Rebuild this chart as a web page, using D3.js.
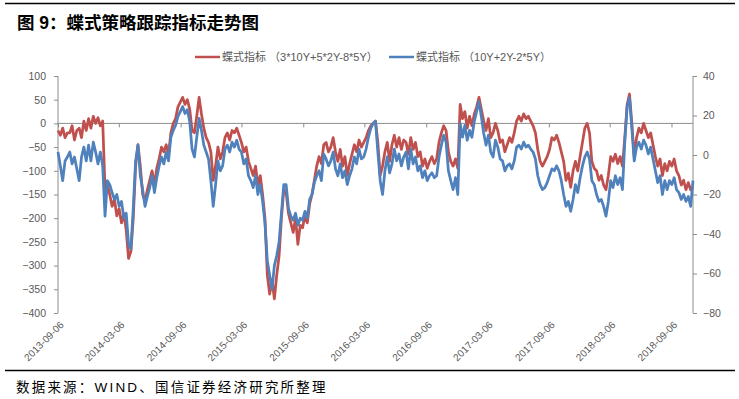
<!DOCTYPE html>
<html>
<head>
<meta charset="utf-8">
<script src="https://cdn.jsdelivr.net/npm/d3@7"></script>
<style>
  body { margin: 0; background: #fff; }
  text { font-family: "Liberation Sans", Arial, "Noto Sans CJK SC", sans-serif; }
</style>
</head>
<body>
<script>
// weekly samples, starting 2013-09-06
var startDate = "2013-09-06";

// red: 3*10Y+5*2Y-8*5Y (left axis)
var redValues = [
  -15, -25, -10, -30, -20, -20, -5, -35, -15, -10, -30, 5, -15, 10, -10, 15, 0, 12, -5, 5,
  -140, -130, -150, -175, -160, -195, -180, -210, -190, -225, -285, -270, -200, -90, -45, -90, -150, -165, -140, -120,
  -100, -130, -95, -75, -50, -60, -45, -65, -20, 0, 10, 35, 45, 55, 40, 50, 30, -15, -20, 15,
  55, 20, -10, -30, -40, -60, -120, -90, -50, -75, -60, -30, -20, -35, -15, -20, -10, -25, -40, -60,
  -50, -80, -95, -110, -90, -130, -110, -150, -200, -320, -360, -330, -370, -320, -280, -200, -140, -145, -190, -210,
  -230, -200, -255, -215, -220, -195, -210, -170, -150, -120, -90, -70, -85, -45, -40, -60, -50, -30, -60, -80,
  -55, -90, -70, -110, -85, -65, -45, -60, -35, -50, -40, -30, -15, -5, 0, 5, -40, -110, -90, -60,
  -40, -80, -45, -25, -50, -30, -55, -35, -40, -65, -30, -55, -40, -70, -60, -90, -75, -95, -80, -70,
  -85, -75, -40, -20, -5, -15, -60, -80, -90, -75, -95, 40, 10, 25, -10, 15, -5, 20, 35, 55,
  30, 5, -15, 10, -30, -20, 0, -15, -40, -35, -60, -45, -30, -40, -20, 5, 15, 5, 20, 10,
  15, 5, -5, -20, -55, -80, -90, -80, -70, -55, -30, -35, -25, -40, -60, -80, -120, -105, -135, -100,
  -80, -100, -70, -40, -10, 0, -20, -80, -95, -100, -120, -110, -130, -140, -110, -70, -80, -65, -85, -70,
  -90, -30, 40, 62, 0, -70, -30, -10, -20, 0, -15, -30, -20, -45, -70, -90, -75, -110, -85, -100,
  -80, -90, -75, -100, -110, -130, -120, -140, -125, -140, -135
];

// blue: 10Y+2Y-2*5Y (right axis)
var blueValues = [
  1.5, -5.5, -13, -3, -1, 1.5, -4.5, -1, -7, -13, -1, 4, -3, 5, -3, 6.5, 1.5, -4.5, 1.5, -5.5,
  -31, -13, -15, -19, -22.5, -20, -26, -23.5, -32, -29.5, -45, -47.5, -27, -3, 5, -10.5, -17.5, -26, -21, -16.5,
  -10.5, -19, -11.5, -5.5, -1, -4.5, 1.5, -3, 9, 12.5, 15, 19.5, 22, 24.5, 21, 23, 17, 3, -1, 9,
  18.5, 12.5, 5, 1.5, -2, -13, -26, -15, -3, -8, -5.5, 3, 5, 1.5, 6.5, 4, 7.5, 3, 1.5, -4.5,
  -2, -10.5, -13, -16.5, -10.5, -20, -15, -23.5, -34.5, -53.5, -61, -68, -56, -51, -44, -29.5, -15, -15, -27, -31,
  -33, -29.5, -35.5, -32, -33, -28.5, -32, -22.5, -20, -14, -10.5, -8, -13, 0.5, -2, -5.5, -3, 1.5, -7, -10.5,
  -4.5, -11.5, -8, -15, -10.5, -7, -1, -4.5, 3, -2, -1, 3, 9, 13.5, 16, 17, 1.5, -13, -20, -8,
  -1, -9, -4.5, 3, -3, 0.5, -5.5, -1, 1.5, -7, 3, -4.5, -1, -8, -5.5, -11.5, -8, -13, -10.5, -9,
  -11.5, -10.5, -1, 5, 10, 6.5, -8, -13, -17.5, -11.5, -20, 16, 9, 15, 7.5, 12.5, 9, 17, 22, 27,
  19.5, 11, 5, 10, 1.5, -1, 7.5, 4, -2, -3, -8, -5.5, -4.5, -7, -3, 4, 5, 3, 6.5, 4,
  5, 3, 1.5, -2, -10.5, -15, -17.5, -16.5, -14, -10.5, -7, -8, -5.5, -8, -13, -20, -26, -23.5, -28.5, -22.5,
  -15, -19, -11.5, -5.5, -1, 1.5, -2, -13, -15, -20, -23.5, -22.5, -26, -31, -23.5, -13, -16.5, -10.5, -15, -11.5,
  -17.5, 6.5, 24.5, 29, 13.5, -3, 4, 6.5, 3, 7.5, 5, 0.5, 4, -2, -8, -14, -10.5, -20, -13, -17.5,
  -13, -15, -11.5, -17.5, -19, -22.5, -20, -23.5, -21, -26, -13
];

var xTickLabels = ["2013-09-06", "2014-03-06", "2014-09-06", "2015-03-06", "2015-09-06", "2016-03-06",
  "2016-09-06", "2017-03-06", "2017-09-06", "2018-03-06", "2018-09-06"];
var leftTicks = [100, 50, 0, -50, -100, -150, -200, -250, -300, -350, -400];
var rightTicks = [40, 20, 0, -20, -40, -60, -80];

var seriesNames = ["蝶式指标 （3*10Y+5*2Y-8*5Y）", "蝶式指标 （10Y+2Y-2*5Y）"];
var red = "#C0504D", blue = "#4F81BD";
var axisGrey = "#8C8C8C", textGrey = "#595959";

var width = 739, height = 399;
var parse = d3.timeParse("%Y-%m-%d");
var t0 = parse(startDate);
var dates = redValues.map(function (d, i) { return d3.timeDay.offset(t0, i * 7); });

var plot = { left: 58, right: 693, top: 76, bottom: 313 };

var svg = d3.select("body").append("svg")
    .attr("width", width)
    .attr("height", height);

// frame rules
svg.append("line").attr("x1", 5).attr("x2", 735).attr("y1", 3.5).attr("y2", 3.5)
    .attr("stroke", "#000").attr("stroke-width", 1.5);
svg.append("line").attr("x1", 5).attr("x2", 735).attr("y1", 370.5).attr("y2", 370.5)
    .attr("stroke", "#000").attr("stroke-width", 1.5);

svg.append("text")
    .attr("x", 17).attr("y", 29)
    .attr("font-family", "'Noto Sans CJK SC', sans-serif")
    .attr("font-weight", "bold")
    .attr("font-size", 17.5)
    .attr("fill", "#000")
    .text("图 9：蝶式策略跟踪指标走势图");

svg.append("text")
    .attr("x", 16).attr("y", 392)
    .attr("font-family", "'Noto Sans CJK SC', sans-serif")
    .attr("font-size", 13.5)
    .attr("letter-spacing", 2.2)
    .attr("fill", "#000")
    .text("数据来源：WIND、国信证券经济研究所整理");

var x = d3.scaleTime()
    .domain([t0, dates[dates.length - 1]])
    .range([plot.left, plot.right]);

var yLeft = d3.scaleLinear()
    .domain([-400, 100])
    .range([plot.bottom, plot.top]);

var yRight = d3.scaleLinear()
    .domain([-80, 40])
    .range([plot.bottom, plot.top]);

// left axis
var leftAxis = svg.append("g")
    .attr("transform", "translate(" + plot.left + ",0)")
    .call(d3.axisLeft(yLeft).tickValues(leftTicks).tickSize(4).tickPadding(8));

// right axis
var rightAxis = svg.append("g")
    .attr("transform", "translate(" + plot.right + ",0)")
    .call(d3.axisRight(yRight).tickValues(rightTicks).tickSize(4).tickPadding(6));

[leftAxis, rightAxis].forEach(function (g) {
    g.select(".domain").attr("stroke", axisGrey).attr("d", function () {
        return "M0," + plot.top + "V" + plot.bottom;
    });
    g.selectAll(".tick line").attr("stroke", axisGrey);
    g.selectAll(".tick text")
        .attr("fill", textGrey)
        .attr("font-size", 10.5)
        .attr("font-family", "'Liberation Sans', Arial, sans-serif");
});

// category axis sits on zero of the left axis
var xTickDates = xTickLabels.map(parse);
var xAxis = svg.append("g")
    .attr("transform", "translate(0," + yLeft(0) + ")")
    .call(d3.axisBottom(x).tickValues(xTickDates).tickSize(4).tickFormat(""));
xAxis.select(".domain").attr("stroke", axisGrey)
    .attr("d", "M" + plot.left + ",0H" + plot.right);
xAxis.selectAll(".tick line").attr("stroke", axisGrey);

svg.append("g")
    .selectAll("text")
    .data(xTickDates)
    .join("text")
    .attr("transform", function (d) { return "translate(" + (x(d) + 4) + ",323) rotate(-45)"; })
    .attr("text-anchor", "end")
    .attr("dy", "0.35em")
    .attr("fill", textGrey)
    .attr("font-size", 10)
    .attr("font-family", "'Liberation Sans', Arial, sans-serif")
    .text(function (d, i) { return xTickLabels[i]; });

var redLine = d3.line()
    .x(function (d, i) { return x(dates[i]); })
    .y(function (d) { return yLeft(d); });

var blueLine = d3.line()
    .x(function (d, i) { return x(dates[i]); })
    .y(function (d) { return yRight(d); });

svg.append("path")
    .datum(redValues)
    .attr("d", redLine)
    .attr("fill", "none")
    .attr("stroke", red)
    .attr("stroke-width", 2.75)
    .attr("stroke-linejoin", "round");

svg.append("path")
    .datum(blueValues)
    .attr("d", blueLine)
    .attr("fill", "none")
    .attr("stroke", blue)
    .attr("stroke-width", 2.75)
    .attr("stroke-linejoin", "round");

// legend
var legendX = [195, 389];
var legend = svg.append("g");
seriesNames.forEach(function (name, i) {
    legend.append("line")
        .attr("x1", legendX[i]).attr("x2", legendX[i] + 25)
        .attr("y1", 57).attr("y2", 57)
        .attr("stroke", i === 0 ? red : blue)
        .attr("stroke-width", 2.5);
    legend.append("text")
        .attr("x", legendX[i] + 27).attr("y", 61)
        .attr("fill", textGrey)
        .attr("font-size", 11)
        .attr("font-family", "'Noto Sans CJK SC', sans-serif")
        .text(name);
});
</script>
</body>
</html>
